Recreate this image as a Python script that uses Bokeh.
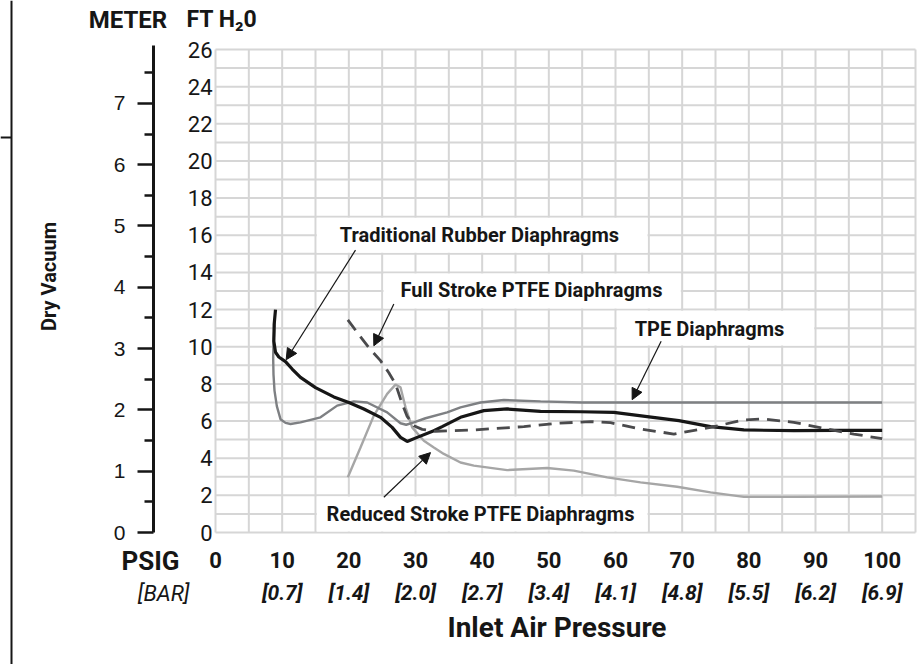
import math
from bokeh.plotting import figure
from bokeh.models import (Range1d, LinearAxis, FixedTicker, Label, Arrow,
                          NormalHead, BoxAnnotation, Span)
from bokeh.embed import file_html
from bokeh.resources import INLINE

# ---------------- data ----------------
PSI_TICKS = [0, 10, 20, 30, 40, 50, 60, 70, 80, 90, 100]
BAR_TICKS = [10, 20, 30, 40, 50, 60, 70, 80, 90, 100]
BAR_LABELS = ["[0.7]", "[1.4]", "[2.0]", "[2.7]", "[3.4]",
              "[4.1]", "[4.8]", "[5.5]", "[6.2]", "[6.9]"]
FT_TICKS = [0, 2, 4, 6, 8, 10, 12, 14, 16, 18, 20, 22, 24, 26]
METER_TICKS = [0, 1, 2, 3, 4, 5, 6, 7]
METER_MINOR = [0.5, 1.5, 2.5, 3.5, 4.5, 5.5, 6.5, 7.5]
FT_PER_METER = 3.3

trad_psi = [9.0, 8.8, 8.75, 9.0, 9.5, 10.5, 11.5, 12.75, 15.0, 17.75, 20.0,
            22.25, 24.75, 26.5, 27.75, 28.75, 30.25, 32.75, 34.0, 36.75, 40.25,
            43.75, 48.75, 54.75, 59.75, 64.75, 69.5, 74.25, 79.25, 86.75, 93.0, 100.0]
trad_ft = [12.0, 11.2, 10.3, 9.7, 9.45, 9.2, 8.8, 8.35, 7.8, 7.3, 7.0,
           6.65, 6.2, 5.66, 5.12, 4.9, 5.12, 5.48, 5.7, 6.2, 6.56,
           6.65, 6.52, 6.5, 6.47, 6.24, 6.02, 5.7, 5.52, 5.48, 5.5, 5.5]

tpe_psi = [8.9, 8.7, 8.65, 8.7, 8.85, 9.2, 9.75, 10.5, 11.25, 12.75, 15.75, 18.25,
           20.75, 22.75, 25.75, 27.75, 28.6, 29.75, 31.5, 34.75, 36.75, 39.75,
           43.25, 48.75, 55.0, 100.0]
tpe_ft = [11.4, 10.2, 9.4, 8.5, 7.64, 6.8, 6.1, 5.9, 5.84, 5.93, 6.2, 6.83,
          7.06, 7.0, 6.47, 5.88, 5.8, 5.93, 6.15, 6.47, 6.74, 7.0,
          7.13, 7.06, 7.0, 7.0]

full_psi = [19.85, 21.5, 23.0, 24.75, 26.0, 27.0, 27.75, 28.25, 28.75, 29.75,
            31.0, 33.0, 38.75, 46.25, 51.25, 56.25, 59.25, 63.75, 68.75, 74.25,
            79.25, 82.25, 86.75, 91.75, 95.75, 100.0]
full_ft = [11.45, 10.65, 9.95, 9.25, 8.6, 8.0, 7.2, 6.7, 6.25, 5.75,
           5.55, 5.45, 5.52, 5.7, 5.88, 5.97, 5.91, 5.57, 5.3, 5.66,
           6.06, 6.11, 5.93, 5.57, 5.3, 5.05]

red_psi = [19.85, 21.75, 23.75, 25.75, 27.0, 27.75, 28.5, 29.5, 31.25, 32.75,
           34.25, 36.75, 38.75, 43.75, 49.75, 53.75, 58.75, 63.75, 69.25, 74.25,
           79.25, 86.75, 100.0]
red_ft = [2.97, 4.58, 6.29, 7.46, 7.96, 7.82, 6.74, 5.66, 4.94, 4.58,
          4.23, 3.77, 3.6, 3.36, 3.47, 3.33, 2.97, 2.7, 2.46, 2.16,
          1.92, 1.92, 1.94]

# ---------------- layout / styles ----------------
W, H = 919, 664
FRAME_L, FRAME_R, FRAME_T, FRAME_B = 215, 915, 49, 532
PSI_MAX, FT_MAX = 105, 26
SX = (FRAME_R - FRAME_L) / PSI_MAX
SY = (FRAME_B - FRAME_T) / FT_MAX


def ux(px):
    return (px - FRAME_L) / SX


def uy(py):
    return (FRAME_B - py) / SY


NARROW = "Noto Sans Condensed, Roboto, Liberation Sans, sans-serif"
REGULAR = "Liberation Sans"
INK = "#161616"
GRID = "#d6d6d6"

p = figure(width=W, height=H, x_range=Range1d(ux(0), ux(W)),
           y_range=Range1d(uy(H), uy(0)), output_backend="svg",
           toolbar_location=None, x_axis_location=None, y_axis_location=None,
           min_border=0, outline_line_color=None,
           background_fill_color="white", border_fill_color="white")
p.xgrid.visible = False
p.ygrid.visible = False

# grid drawn only over the chart area
gx = list(range(0, PSI_MAX + 1, 5))
gy = list(range(0, FT_MAX + 1))
p.segment(x0=gx, y0=[0] * len(gx), x1=gx, y1=[FT_MAX] * len(gx),
          line_color=GRID, line_width=2)
p.segment(x0=[0] * len(gy), y0=gy, x1=[PSI_MAX] * len(gy), y1=gy,
          line_color=GRID, line_width=2)

# FT axis
ft_ax = LinearAxis(fixed_location=0, ticker=FixedTicker(ticks=FT_TICKS),
                   axis_line_color=None, major_tick_line_color=None,
                   minor_tick_line_color=None, major_tick_out=0, major_tick_in=0,
                   minor_tick_out=0, minor_tick_in=0, major_label_standoff=3,
                   major_label_text_font=NARROW, major_label_text_font_size="22px",
                   major_label_text_color=INK)
p.add_layout(ft_ax, "left")

# meter axis
p.extra_y_ranges = {"m": Range1d(uy(H) / FT_PER_METER, uy(0) / FT_PER_METER)}
m_ax = LinearAxis(y_range_name="m", fixed_location=ux(153),
                  bounds=(0, uy(45) / FT_PER_METER),
                  ticker=FixedTicker(ticks=METER_TICKS, minor_ticks=METER_MINOR),
                  axis_line_width=3, axis_line_color=INK,
                  major_tick_out=16, major_tick_in=0, major_tick_line_width=2.5,
                  major_tick_line_color=INK,
                  minor_tick_out=9, minor_tick_in=0, minor_tick_line_width=2.5,
                  minor_tick_line_color=INK,
                  major_label_standoff=12, major_label_text_font=REGULAR,
                  major_label_text_font_size="21px", major_label_text_color=INK)
p.add_layout(m_ax, "left")

# PSI axis
x_ax = LinearAxis(fixed_location=0, ticker=FixedTicker(ticks=PSI_TICKS),
                  axis_line_color=None, major_tick_line_color=None,
                  minor_tick_line_color=None, major_tick_out=0, major_tick_in=0,
                  minor_tick_out=0, minor_tick_in=0, major_label_standoff=19,
                  major_label_text_font=NARROW, major_label_text_font_size="22px",
                  major_label_text_font_style="bold", major_label_text_color=INK)
p.add_layout(x_ax, "below")

# BAR axis with the axis title
bar_ax = LinearAxis(fixed_location=uy(578), bounds=(0, 102.4),
                    ticker=FixedTicker(ticks=BAR_TICKS),
                    major_label_overrides={t: l for t, l in zip(BAR_TICKS, BAR_LABELS)},
                    axis_line_color=None, major_tick_line_color=None,
                    minor_tick_line_color=None, major_tick_out=0, major_tick_in=0,
                    minor_tick_out=0, minor_tick_in=0, major_label_standoff=2,
                    major_label_text_font=NARROW, major_label_text_font_size="21px",
                    major_label_text_font_style="bold italic",
                    major_label_text_color=INK,
                    axis_label="Inlet Air Pressure", axis_label_standoff=3,
                    axis_label_text_font=NARROW, axis_label_text_font_size="28px",
                    axis_label_text_font_style="bold", axis_label_text_color=INK)
p.add_layout(bar_ax, "below")

# ---------------- curves ----------------
p.line(red_psi, red_ft, line_color="#a6a6a6", line_width=2.4)
p.line(tpe_psi, tpe_ft, line_color="#7e8083", line_width=2.4)
p.line(trad_psi, trad_ft, line_color=INK, line_width=3.2)
p.line(full_psi, full_ft, line_color="#4a4a4c", line_width=2.8, line_dash="13 8")

# ---------------- annotations ----------------
boxes = [(15, 65, 15, 17), (25, 70, 12, 14), (60, 90, 10, 12), (15, 65, 0, 2)]
for l, r, b, t in boxes:
    p.add_layout(BoxAnnotation(left=l + 0.2, right=r - 0.2, bottom=b + 0.06,
                               top=t - 0.06, fill_color="white", fill_alpha=1,
                               line_color=None))

notes = [("Traditional Rubber Diaphragms", 39.6, 16.0),
         ("Full Stroke PTFE Diaphragms", 47.4, 13.05),
         ("TPE Diaphragms", 74.1, 10.96),
         ("Reduced Stroke PTFE Diaphragms", 39.75, 0.99)]
for txt, x, y in notes:
    p.add_layout(Label(x=x, y=y, text=txt, text_align="center",
                       text_baseline="middle", text_font=NARROW,
                       text_font_size="20px", text_font_style="bold",
                       text_color=INK))

arrows = [(21.0, 15.2, 10.6, 9.3), (26.75, 12.3, 23.75, 10.05),
          (66.85, 10.3, 62.5, 7.15), (25.25, 1.9, 32.25, 4.3)]
for xs, ys, xe, ye in arrows:
    p.add_layout(Arrow(end=NormalHead(size=11, fill_color=INK, line_color=INK,
                                      line_width=1),
                       x_start=xs, y_start=ys, x_end=xe, y_end=ye,
                       line_color=INK, line_width=1.2))

# headers and side labels
p.add_layout(Label(x=ux(127.5), y=uy(19), text="METER", text_align="center",
                   text_baseline="middle", text_font=NARROW, text_font_size="24px",
                   text_font_style="bold", text_color=INK))
p.add_layout(Label(x=ux(186), y=uy(19), text="FT H₂0", text_align="left",
                   text_baseline="middle", text_font=NARROW, text_font_size="23px",
                   text_font_style="bold", text_color=INK))
p.add_layout(Label(x=ux(48), y=uy(276), text="Dry Vacuum", angle=math.pi / 2,
                   text_align="center", text_baseline="middle", text_font=NARROW,
                   text_font_size="20px", text_font_style="bold", text_color=INK))
p.add_layout(Label(x=ux(179), y=uy(560), text="PSIG", text_align="right",
                   text_baseline="middle", text_font=NARROW, text_font_size="26px",
                   text_font_style="bold", text_color=INK))
p.add_layout(Label(x=ux(189), y=uy(593), text="[BAR]", text_align="right",
                   text_baseline="middle", text_font=NARROW, text_font_size="22px",
                   text_font_style="italic", text_color=INK))

# page-edge rule seen at the far left of the reference
p.add_layout(Span(location=ux(11), dimension="height", line_color=INK, line_width=2))
p.add_layout(BoxAnnotation(right=ux(11), bottom=uy(138), top=uy(136),
                           fill_color=INK, fill_alpha=1, line_color=None))

open("out.html", "w").write(file_html(p, INLINE))
